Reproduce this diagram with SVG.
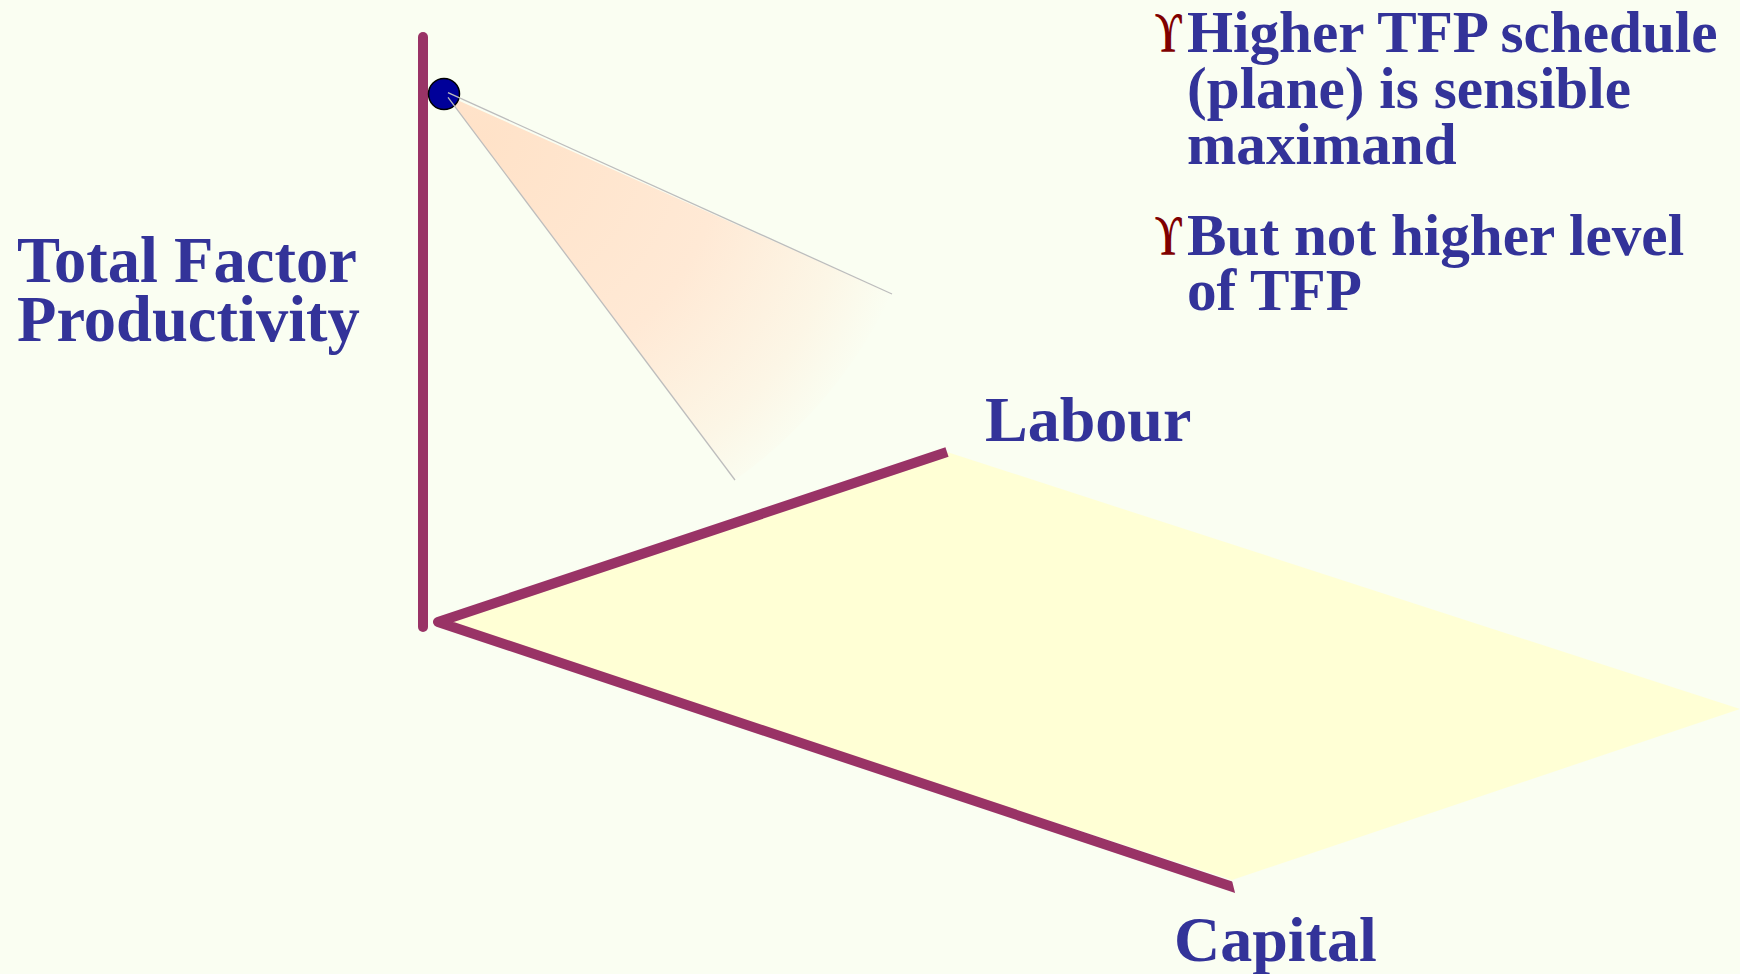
<svg xmlns="http://www.w3.org/2000/svg" width="1740" height="974" viewBox="0 0 1740 974">
  <defs>
    <radialGradient id="coneFill" gradientUnits="userSpaceOnUse" cx="480" cy="140" r="440">
      <stop offset="0" stop-color="#FFE2C8"/>
      <stop offset="0.55" stop-color="#FFE9D5"/>
      <stop offset="0.85" stop-color="#FCF6E6"/>
      <stop offset="1" stop-color="#FAFEF2"/>
    </radialGradient>
    <clipPath id="capCut">
      <polygon points="0,0 1740,0 1740,600 1228.4,865.9 1238.3,906.1 1238.3,974 0,974"/>
    </clipPath>
    <style>
      .axis { stroke: #993366; stroke-width: 10; fill: none; }
      .lbl { font-family: "Liberation Serif", "Times New Roman", serif; font-weight: bold; fill: #333399; }
      .bul { font-family: "Liberation Serif", "DejaVu Serif", serif; fill: #800000; font-size: 56px; font-weight: bold; }
      .ray { stroke: #BDBDBD; stroke-width: 1.3; fill: none; }
    </style>
  </defs>
  <rect width="1740" height="974" fill="#FAFEF2"/>

  <g id="plane">
    <polygon points="438,622 947,452 1740,709 1232,880" fill="#FFFFD5"/>
  </g>

  <g id="cone">
    <path d="M446,95 L892,294 A488,488 0 0 1 735,480 Z" fill="url(#coneFill)"/>
  </g>

  <g id="axes">
    <line class="axis" x1="423" y1="37" x2="423" y2="627" stroke-linecap="round"/>
    <polyline class="axis" points="947,452 438,622 1245,891" stroke-linejoin="round" clip-path="url(#capCut)"/>
  </g>

  <g id="point">
    <circle cx="444" cy="94" r="15.5" fill="#000099" stroke="#000000" stroke-width="1.5"/>
  </g>

  <g id="connectors">
    <line class="ray" x1="448" y1="92.7" x2="892" y2="294"/>
    <line class="ray" x1="448" y1="97.3" x2="735" y2="480"/>
  </g>

  <g id="label-tfp">
    <text class="lbl" font-size="64.5" x="17" y="282">Total Factor</text>
    <text class="lbl" font-size="64.5" x="17" y="341">Productivity</text>
  </g>
  <g id="label-labour">
    <text class="lbl" font-size="64" x="985" y="441">Labour</text>
  </g>
  <g id="label-capital">
    <text class="lbl" font-size="64" x="1174" y="961">Capital</text>
  </g>

  <g id="bullets">
    <text class="bul" x="1155" y="52" textLength="27" lengthAdjust="spacingAndGlyphs">ϒ</text>
    <text class="lbl" font-size="59.2" x="1187" y="52">Higher TFP schedule</text>
    <text class="lbl" font-size="59.2" x="1187" y="108">(plane) is sensible</text>
    <text class="lbl" font-size="59.2" x="1187" y="164">maximand</text>
    <text class="bul" x="1155" y="255" textLength="27" lengthAdjust="spacingAndGlyphs">ϒ</text>
    <text class="lbl" font-size="59.2" x="1187" y="255">But not higher level</text>
    <text class="lbl" font-size="59.2" x="1187" y="310">of TFP</text>
  </g>
</svg>
